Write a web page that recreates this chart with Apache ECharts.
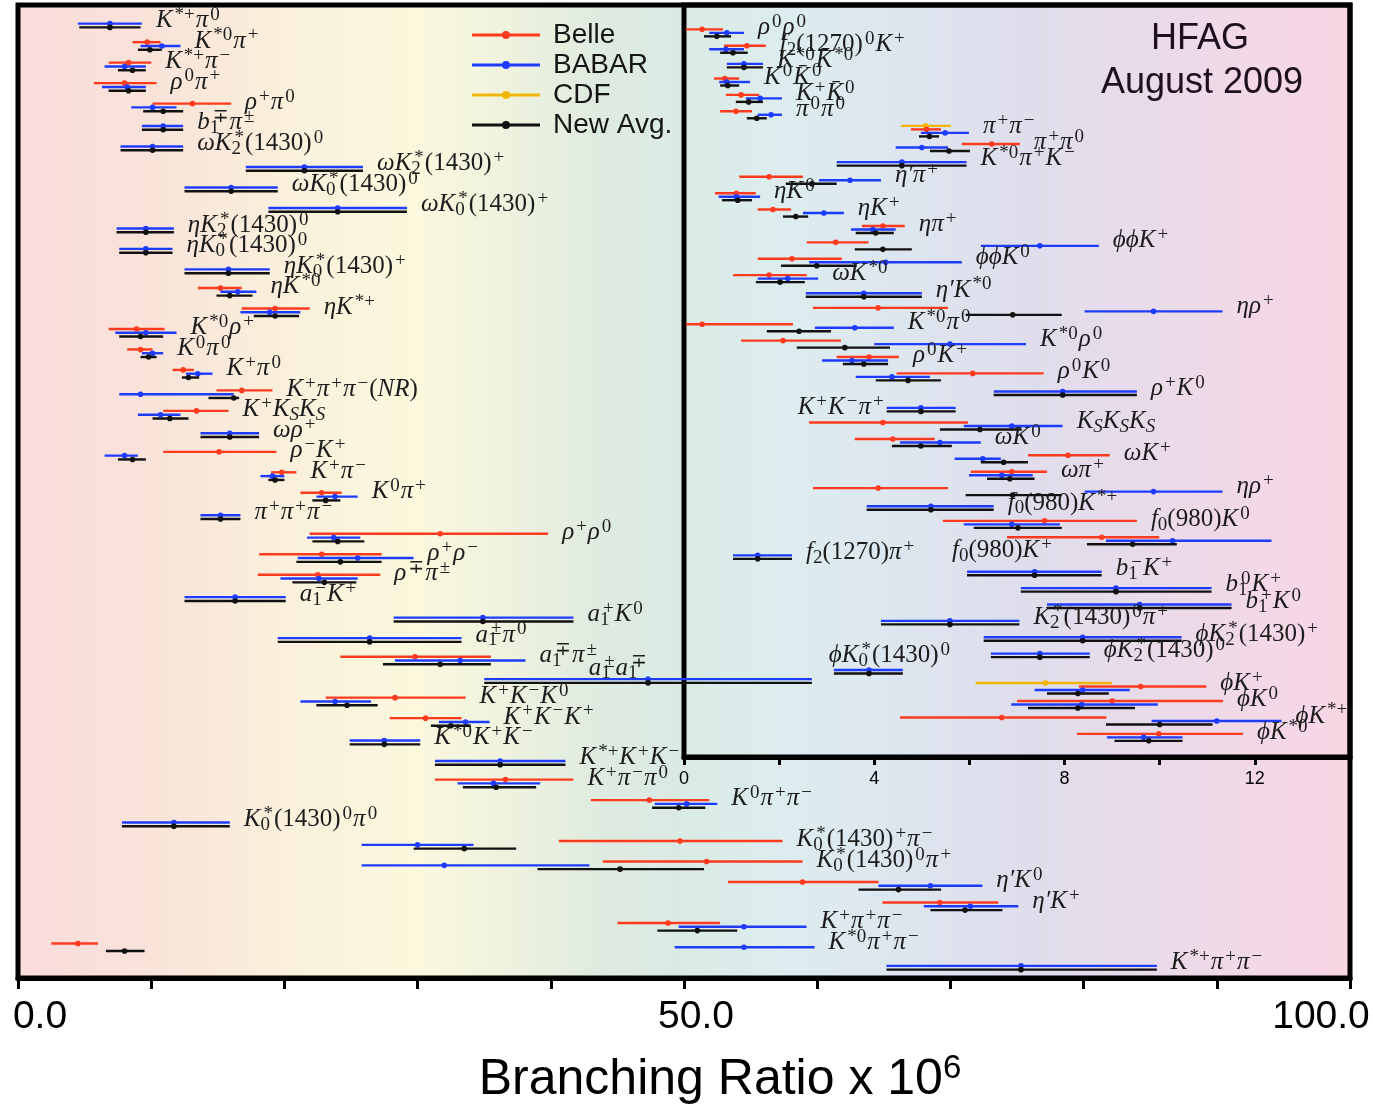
<!DOCTYPE html>
<html>
<head>
<meta charset="utf-8">
<title>Charmless B decays — branching ratios</title>
<script src="https://cdn.jsdelivr.net/npm/echarts@6/dist/echarts.min.js"></script>
<style>
  html, body { margin: 0; padding: 0; background: #ffffff; }
  #chart { width: 1373px; height: 1104px; }
</style>
</head>
<body>
<div id="chart"></div>
<script>
// Each measurement is [central value, lower edge, upper edge] in units of 10^-6.
// Label markup: ^{..} superscript, _{..} subscript.

// ---------- main panel (0 – 100) ----------
const mainModes = [
  'K^{*+}π^{0}', 'K^{*0}π^{+}', 'K^{*+}π^{−}', 'ρ^{0}π^{+}', 'ρ^{+}π^{0}', 'b_{1}^{∓}π^{±}',
  'ωK_{2}^{*}(1430)^{0}', 'ωK_{2}^{*}(1430)^{+}', 'ωK_{0}^{*}(1430)^{0}', 'ωK_{0}^{*}(1430)^{+}',
  'ηK_{2}^{*}(1430)^{0}', 'ηK_{0}^{*}(1430)^{0}', 'ηK_{0}^{*}(1430)^{+}', 'ηK^{*0}', 'ηK^{*+}',
  'K^{*0}ρ^{+}', 'K^{0}π^{0}', 'K^{+}π^{0}', 'K^{+}π^{+}π^{−}(NR)', 'K^{+}K_{S}K_{S}', 'ωρ^{+}',
  'ρ^{−}K^{+}', 'K^{+}π^{−}', 'K^{0}π^{+}', 'π^{+}π^{+}π^{−}', 'ρ^{+}ρ^{0}', 'ρ^{+}ρ^{−}', 'ρ^{∓}π^{±}',
  'a_{1}^{−}K^{+}', 'a_{1}^{+}K^{0}', 'a_{1}^{±}π^{0}', 'a_{1}^{∓}π^{±}', 'a_{1}^{±}a_{1}^{∓}',
  'K^{+}K^{−}K^{0}', 'K^{+}K^{−}K^{+}', 'K^{*0}K^{+}K^{−}', 'K^{*+}K^{+}K^{−}', 'K^{+}π^{−}π^{0}',
  'K^{0}π^{+}π^{−}', 'K_{0}^{*}(1430)^{0}π^{0}', 'K_{0}^{*}(1430)^{+}π^{−}', 'K_{0}^{*}(1430)^{0}π^{+}',
  'η′K^{0}', 'η′K^{+}', 'K^{+}π^{+}π^{−}', 'K^{*0}π^{+}π^{−}', 'K^{*+}π^{+}π^{−}'
];

const mainBelle = [
  null, [9.7, 8.6, 10.7], [8.3, 6.8, 10.0], [8.0, 5.7, 10.4], [13.1, 10.1, 16.0], null,
  null, null, null, null,
  null, null, null, [15.2, 13.5, 16.8], [19.3, 16.8, 21.9],
  [8.9, 6.8, 11.0], [9.2, 8.2, 10.1], [12.4, 11.6, 13.2], [16.8, 14.9, 19.1], [13.4, 10.9, 15.8], null,
  [15.1, 10.9, 19.4], [19.8, 19.0, 20.9], [22.8, 21.2, 24.3], null, [31.7, 21.9, 39.8], [22.8, 18.1, 27.3], [22.5, 18.0, 27.2],
  null, null, null, [29.8, 24.2, 35.5], null,
  [28.3, 23.1, 33.6], [30.6, 27.9, 33.3], null, null, [36.6, 31.3, 41.7],
  [47.4, 43.0, 51.9], null, [49.7, 40.6, 57.4], [51.7, 43.9, 58.9],
  [58.9, 53.3, 64.6], [69.2, 64.9, 73.6], [48.8, 45.0, 52.7], [4.5, 2.5, 6.0], null
];

const mainBabar = [
  [6.9, 4.5, 9.3], [10.8, 9.2, 12.2], [8.0, 6.5, 9.6], [8.2, 6.3, 9.6], [10.1, 8.5, 11.9], [10.9, 9.3, 12.4],
  [10.1, 7.7, 12.4], [21.5, 17.1, 25.9], [16.0, 12.5, 19.5], [24.0, 18.8, 29.2],
  [9.6, 7.4, 11.7], [9.6, 7.6, 11.6], [15.8, 12.5, 18.9], [16.5, 15.2, 17.9], [18.9, 16.7, 21.2],
  [9.6, 7.3, 11.9], [10.1, 9.3, 10.9], [13.5, 12.6, 14.6], [9.2, 7.6, 16.2], [10.7, 9.0, 12.2], [15.9, 13.7, 18.1],
  [8.0, 6.5, 9.0], [19.1, 18.2, 20.0], [23.8, 22.4, 25.5], [15.2, 13.7, 16.7], [23.7, 21.7, 25.7], [25.5, 21.0, 29.7], [22.6, 19.7, 25.5],
  [16.3, 12.5, 20.1], [34.9, 28.2, 41.7], [26.4, 19.5, 33.3], [33.2, 28.3, 38.1], [47.3, 35.0, 59.6],
  [23.8, 21.2, 26.5], [33.6, 31.6, 35.4], [27.5, 24.9, 30.2], [36.2, 31.3, 41.1], [35.7, 33.0, 39.2],
  [50.2, 47.8, 52.5], [11.7, 7.8, 15.9], [30.0, 25.8, 34.2], [32.0, 25.8, 42.9],
  [68.5, 64.6, 72.4], [71.5, 68.0, 75.1], [54.5, 49.6, 59.2], [54.5, 49.3, 59.8], [75.3, 65.2, 85.5]
];

const mainAvg = [
  [6.9, 4.6, 9.2], [9.9, 9.0, 10.8], [8.6, 7.5, 9.6], [8.3, 6.8, 9.6], [10.9, 9.4, 12.4], [10.9, 9.3, 12.4],
  [10.1, 7.7, 12.4], [21.5, 17.1, 25.9], [16.0, 12.5, 19.5], [24.0, 18.8, 29.2],
  [9.6, 7.4, 11.7], [9.6, 7.6, 11.6], [15.8, 12.5, 18.9], [15.9, 14.9, 17.6], [19.3, 17.7, 21.1],
  [9.2, 7.6, 10.9], [9.8, 9.2, 10.4], [12.8, 12.3, 13.6], [16.2, 14.3, 16.6], [11.4, 10.1, 12.8], [15.9, 13.7, 18.1],
  [8.6, 7.5, 9.6], [19.3, 18.8, 20.0], [23.1, 22.1, 24.2], [15.2, 13.7, 16.7], [24.0, 22.1, 26.0], [24.2, 20.9, 27.3], [23.0, 20.6, 25.4],
  [16.3, 12.5, 20.1], [34.9, 28.2, 41.7], [26.4, 19.5, 33.3], [31.7, 27.4, 35.5], [47.3, 35.0, 59.6],
  [24.7, 22.4, 27.0], [32.5, 31.0, 34.0], [27.5, 24.9, 30.2], [36.2, 31.3, 41.1], [35.9, 33.4, 38.9],
  [49.6, 47.6, 51.6], [11.7, 7.8, 15.9], [33.5, 29.7, 37.4], [45.2, 39.0, 51.5],
  [66.1, 63.1, 69.3], [71.1, 68.5, 73.9], [51.0, 48.0, 54.0], [8.0, 6.6, 9.5], [75.3, 65.2, 85.5]
];

// ---------- inset panel (0 – 14) ----------
const insetModes = [
  'ρ^{0}ρ^{0}', 'f_{2}(1270)^{0}K^{+}', 'K^{*0}K\u0304^{*0}', 'K^{0}K\u0304^{0}', 'K^{+}K\u0304^{0}', 'π^{0}π^{0}',
  'π^{+}π^{−}', 'π^{+}π^{0}', 'K^{*0}π^{+}K^{−}', 'η′π^{+}', 'ηK^{0}', 'ηK^{+}', 'ηπ^{+}',
  'ϕϕK^{+}', 'ϕϕK^{0}', 'ωK^{*0}', 'η′K^{*0}', 'ηρ^{+}', 'K^{*0}π^{0}', 'K^{*0}ρ^{0}', 'ρ^{0}K^{+}',
  'ρ^{0}K^{0}', 'ρ^{+}K^{0}', 'K^{+}K^{−}π^{+}', 'K_{S}K_{S}K_{S}', 'ωK^{0}', 'ωK^{+}', 'ωπ^{+}', 'ηρ^{+}',
  'f_{0}(980)K^{*+}', 'f_{0}(980)K^{0}', 'f_{0}(980)K^{+}', 'f_{2}(1270)π^{+}', 'b_{1}^{−}K^{+}',
  'b_{1}^{0}K^{+}', 'b_{1}^{+}K^{0}', 'K_{2}^{*}(1430)^{0}π^{+}', 'ϕK_{2}^{*}(1430)^{+}', 'ϕK_{2}^{*}(1430)^{0}',
  'ϕK_{0}^{*}(1430)^{0}', 'ϕK^{+}', 'ϕK^{0}', 'ϕK^{*+}', 'ϕK^{*0}'
];

const insetCdf = [
  null, null, null, null, null, null,
  [5.08, 4.56, 5.61], null, null, null, null, null, null,
  null, null, null, null, null, null, null, null,
  null, null, null, null, null, null, null, null,
  null, null, null, null, null,
  null, null, null, null, null,
  null, [7.60, 6.13, 9.00], null, null, null
];

const insetBelle = [
  [0.38, 0.04, 0.82], [1.32, 0.84, 1.72], null, [0.86, 0.63, 1.16], [1.20, 0.88, 1.58], [1.09, 0.76, 1.43],
  [5.10, 4.77, 5.40], [6.47, 5.84, 7.06], null, [1.79, 1.16, 2.50], [1.10, 0.65, 1.51], [1.87, 1.55, 2.25], [4.18, 3.74, 4.64],
  [3.19, 2.58, 3.88], [2.27, 1.55, 3.32], [1.79, 1.03, 2.58], null, [4.08, 2.71, 5.55], [0.38, 0.04, 2.29], [2.08, 1.20, 3.30], [3.89, 3.21, 4.52],
  [6.07, 4.47, 7.56], null, null, [4.18, 2.63, 5.97], [4.39, 3.59, 5.27], [8.07, 7.23, 8.95], [6.89, 6.03, 7.63], [4.08, 2.71, 5.55],
  null, [7.58, 5.44, 9.52], [8.78, 6.79, 9.99], null, null,
  null, null, null, null, null,
  null, [9.60, 8.30, 10.98], [9.00, 7.00, 11.33], [6.68, 4.54, 8.88], [9.98, 8.26, 11.75]
];

const insetBabar = [
  [0.90, 0.53, 1.26], [0.88, 0.53, 1.26], [1.26, 0.90, 1.66], [0.90, 0.74, 1.39], [1.60, 1.30, 2.06], [1.83, 1.55, 2.06],
  [5.49, 4.98, 5.99], [5.00, 4.45, 5.55], [4.58, 3.21, 5.94], [3.49, 2.84, 4.14], [1.10, 0.73, 1.60], [2.94, 2.50, 3.36], [3.97, 3.51, 4.45],
  [7.48, 6.24, 8.72], [4.24, 2.63, 5.84], [2.18, 1.55, 2.82], [3.78, 2.56, 5.00], [9.87, 8.42, 11.32], [3.59, 2.75, 4.41], [5.59, 4.00, 7.19], [3.53, 2.90, 4.29],
  [4.37, 3.61, 5.17], [7.96, 6.51, 9.52], [4.98, 4.26, 5.71], [6.89, 5.88, 7.96], [5.38, 4.54, 6.24], [6.28, 5.69, 6.66], [6.68, 5.99, 7.33], [9.87, 8.42, 11.32],
  [5.19, 3.84, 6.51], [6.89, 5.88, 7.90], [10.27, 8.87, 12.35], [1.55, 1.03, 2.27], [7.37, 5.95, 8.78],
  [9.08, 7.08, 11.09], [9.58, 7.63, 11.51], [5.59, 4.14, 7.05], [8.38, 6.30, 10.46], [7.48, 6.45, 8.53],
  [3.89, 3.15, 4.60], [8.38, 7.37, 9.37], [8.36, 6.88, 9.96], [11.20, 9.83, 12.56], [9.66, 8.89, 10.48]
];

const insetAvg = [
  [0.69, 0.42, 0.99], [1.03, 0.76, 1.34], [1.26, 0.90, 1.66], [0.92, 0.76, 1.16], [1.36, 1.09, 1.66], [1.53, 1.32, 1.74],
  [5.16, 4.94, 5.36], [5.57, 5.17, 6.01], [4.58, 3.21, 5.94], [2.69, 2.14, 3.21], [1.13, 0.80, 1.43], [2.35, 2.08, 2.61], [4.03, 3.61, 4.41],
  [4.18, 3.59, 4.79], [2.79, 2.04, 3.63], [2.02, 1.51, 2.54], [3.78, 2.56, 5.00], [6.91, 5.92, 7.94], [2.42, 1.74, 3.09], [3.38, 2.37, 4.33], [3.78, 3.34, 4.29],
  [4.71, 4.03, 5.40], [7.96, 6.51, 9.52], [4.98, 4.26, 5.71], [6.22, 5.38, 7.10], [4.98, 4.37, 5.63], [6.72, 6.24, 7.23], [6.85, 6.37, 7.37], [6.91, 5.92, 7.94],
  [5.19, 3.84, 6.51], [7.02, 6.09, 7.94], [9.43, 8.47, 10.36], [1.55, 1.03, 2.27], [7.37, 5.95, 8.78],
  [9.08, 7.08, 11.09], [9.58, 7.63, 11.51], [5.59, 4.14, 7.05], [8.38, 6.30, 10.46], [7.48, 6.45, 8.53],
  [3.89, 3.15, 4.60], [8.28, 7.63, 8.93], [8.28, 7.23, 9.48], [10.00, 8.87, 11.11], [9.77, 9.05, 10.48]
];

// ---------- axis tick labels ----------
const mainTickLabels = { 0: '0.0', 50: '50.0', 100: '100.0' };
const insetTickLabels = { 0: '0', 4: '4', 8: '8', 12: '12' };

// ---------- presentation ----------
const EXPERIMENTS = [
  { name: 'CDF', color: '#f2b705' },
  { name: 'Belle', color: '#ff3b1f' },
  { name: 'BABAR', color: '#1e3cff' },
  { name: 'New Avg.', color: '#111111' }
];

// Labels that do not sit just right of their bars (1-based row numbers).
const mainLabelLayout = {
  33: { from: 'val', align: 'right', dx: 0, dy: -13 }
};
const insetLabelLayout = {
  24: { from: 'lo', align: 'right', dx: -2, dy: -2 },
  32: { from: 'lo', align: 'right', dx: 46, dy: 10 },
  40: { from: 'lo', align: 'left', dx: -5, dy: -16 }
};

const SERIF = '"Liberation Serif", "DejaVu Serif", serif';
const SANS = '"Liberation Sans", Arial, Helvetica, sans-serif';
const LF = 25, LS = 19;
const RICH = {
  n:    { font: 'italic ' + LF + 'px ' + SERIF, lineHeight: 30, align: 'left' },
  u:    { font: LF + 'px ' + SERIF, lineHeight: 30, align: 'left' },
  sp:   { font: LS + 'px ' + SERIF, lineHeight: 19, verticalAlign: 'top', align: 'left', padding: [0, 1, 0, 2] },
  spi:  { font: 'italic ' + LS + 'px ' + SERIF, lineHeight: 19, verticalAlign: 'top', align: 'left', padding: [0, 1, 0, 2] },
  sb:   { font: LS + 'px ' + SERIF, lineHeight: 17, verticalAlign: 'bottom', align: 'left' },
  sbi:  { font: 'italic ' + LS + 'px ' + SERIF, lineHeight: 17, verticalAlign: 'bottom', align: 'left' },
  sbz:  { font: LS + 'px ' + SERIF, lineHeight: 17, verticalAlign: 'bottom', align: 'left', width: 1 },
  sbzi: { font: 'italic ' + LS + 'px ' + SERIF, lineHeight: 17, verticalAlign: 'bottom', align: 'left', width: 1 }
};

// Turn the small markup into zrender rich-text tokens.
function toRich(src) {
  let out = '', buf = '', bufStyle = null, i = 0;
  const flush = () => { if (buf) { out += '{' + bufStyle + '|' + buf + '}'; buf = ''; } };
  while (i < src.length) {
    const c = src[i];
    if ((c === '^' || c === '_') && src[i + 1] === '{') {
      const end = src.indexOf('}', i);
      const content = src.slice(i + 2, end);
      flush();
      let st = c === '^' ? 'sp' : 'sb';
      if (c === '_' && src[end + 1] === '^') st = 'sbz'; // stack sub under the following sup
      if (/[A-Za-z]/.test(content)) st += 'i';
      out += '{' + st + '|' + content + '}';
      i = end + 1;
      continue;
    }
    const s = /[0-9()]/.test(c) ? 'u' : 'n';
    if (buf && s !== bufStyle) flush();
    bufStyle = s;
    buf += c;
    i++;
  }
  flush();
  return out;
}

function errorBarSeries(sets, gridIndex, spacing) {
  const list = [];
  EXPERIMENTS.forEach((exp, e) => {
    const arr = sets[e];
    if (!arr) return;
    const data = [];
    arr.forEach((d, i) => {
      if (!d) return;
      const present = sets.map(s => s && s[i]).map(Boolean);
      const n = present.filter(Boolean).length;
      const k = present.slice(0, e).filter(Boolean).length;
      data.push([d[0], i + 1, d[1], d[2], k, n]);
    });
    list.push({
      name: exp.name,
      type: 'custom',
      xAxisIndex: gridIndex,
      yAxisIndex: gridIndex,
      itemStyle: { color: exp.color },
      encode: { x: [0, 2, 3], y: 1 },
      clip: false,
      z: 3 + e,
      renderItem: function (params, api) {
        const row = api.value(1);
        const k = api.value(4), n = api.value(5);
        const yc = api.coord([api.value(0), row])[1] + (k - (n - 1) / 2) * spacing;
        const xl = api.coord([api.value(2), row])[0];
        const xh = api.coord([api.value(3), row])[0];
        const xc = api.coord([api.value(0), row])[0];
        return {
          type: 'group',
          children: [
            { type: 'line', shape: { x1: xl, y1: yc, x2: xh, y2: yc }, style: { stroke: exp.color, lineWidth: 2.4 } },
            { type: 'circle', shape: { cx: xc, cy: yc, r: 2.8 }, style: { fill: exp.color } }
          ]
        };
      },
      data: data
    });
  });
  return list;
}

function labelSeries(modes, sets, gridIndex, layout) {
  const rich = modes.map(toRich);
  const data = modes.map((m, i) => {
    const items = sets.map(s => s && s[i]).filter(Boolean);
    const lay = layout[i + 1] || {};
    let anchor;
    if (lay.from === 'lo') anchor = Math.min.apply(null, items.map(d => d[1]));
    else if (lay.from === 'val') anchor = items[items.length - 1][0];
    else anchor = Math.max.apply(null, items.map(d => d[2]));
    return [anchor, i + 1];
  });
  return {
    name: 'labels-' + gridIndex,
    type: 'custom',
    xAxisIndex: gridIndex,
    yAxisIndex: gridIndex,
    clip: false,
    z: 10,
    silent: true,
    encode: { x: 0, y: 1 },
    renderItem: function (params, api) {
      const i = params.dataIndex;
      const lay = layout[i + 1] || {};
      const p = api.coord([api.value(0), api.value(1)]);
      return {
        type: 'text',
        x: p[0] + (lay.dx != null ? lay.dx : 14),
        y: p[1] + (lay.dy != null ? lay.dy : -5),
        style: {
          text: rich[i],
          rich: RICH,
          align: lay.align || 'left',
          verticalAlign: 'middle',
          fill: '#1c1c1c'
        }
      };
    },
    data: data
  };
}

const mainSets = [null, mainBelle, mainBabar, mainAvg];
const insetSets = [insetCdf, insetBelle, insetBabar, insetAvg];

const chart = echarts.init(document.getElementById('chart'), null, { renderer: 'canvas' });

const option = {
  animation: false,
  backgroundColor: '#ffffff',
  grid: [
    {
      left: 18, top: 5, width: 1332, height: 973,
      outerBoundsMode: 'none', containLabel: false,
      show: true, borderColor: '#000', borderWidth: 5,
      backgroundColor: {
        type: 'linear', x: 0, y: 0, x2: 1, y2: 0,
        colorStops: [
          { offset: 0.00, color: '#fadcdc' },
          { offset: 0.10, color: '#f9e3d9' },
          { offset: 0.22, color: '#faf2dc' },
          { offset: 0.30, color: '#fbf8dd' },
          { offset: 0.37, color: '#eef2de' },
          { offset: 0.44, color: '#deebe0' },
          { offset: 0.50, color: '#daeae4' },
          { offset: 0.57, color: '#ddedef' },
          { offset: 0.66, color: '#dde6ef' },
          { offset: 0.75, color: '#dfdeec' },
          { offset: 0.84, color: '#e8dbea' },
          { offset: 0.93, color: '#f3d8e6' },
          { offset: 1.00, color: '#f9d6e4' }
        ]
      }
    },
    {
      left: 684, top: 5, width: 666, height: 752,
      outerBoundsMode: 'none', containLabel: false,
      show: true, borderColor: '#000', borderWidth: 5, backgroundColor: 'transparent'
    }
  ],
  xAxis: [
    {
      gridIndex: 0, type: 'value', min: 0, max: 100, interval: 10,
      axisLine: { show: true, onZero: false, lineStyle: { color: '#000', width: 5 } },
      axisTick: { show: true, inside: false, length: 11, lineStyle: { color: '#000', width: 3 } },
      splitLine: { show: false },
      axisLabel: {
        showMinLabel: true, showMaxLabel: true, margin: 20,
        formatter: function (v) {
          const t = mainTickLabels[v];
          if (t == null) return '';
          const key = v === 0 ? 'l' : (v === 100 ? 'r' : 'm');
          return '{' + key + '|' + t + '}';
        },
        rich: {
          l: { fontFamily: SANS, fontSize: 39, color: '#000', padding: [0, 0, 0, 44] },
          m: { fontFamily: SANS, fontSize: 39, color: '#000', padding: [0, 0, 0, 24] },
          r: { fontFamily: SANS, fontSize: 39, color: '#000', padding: [0, 58, 0, 0] }
        }
      },
      name: '{a|Branching Ratio x 10}{b|6}',
      nameLocation: 'middle',
      nameGap: 74,
      nameTextStyle: {
        rich: {
          a: { fontFamily: SANS, fontSize: 50, color: '#000', lineHeight: 56, padding: [0, 0, 0, 72] },
          b: { fontFamily: SANS, fontSize: 33, color: '#000', lineHeight: 34, verticalAlign: 'top' }
        }
      }
    },
    {
      gridIndex: 1, type: 'value', min: 0, max: 14, interval: 2,
      axisLine: { show: true, onZero: false, lineStyle: { color: '#000', width: 5 } },
      axisTick: { show: true, inside: false, length: 8, lineStyle: { color: '#000', width: 3 } },
      splitLine: { show: false },
      axisLabel: {
        showMinLabel: true, showMaxLabel: true, margin: 13,
        fontFamily: SANS, fontSize: 18, color: '#000',
        formatter: function (v) { return insetTickLabels[v] != null ? insetTickLabels[v] : ''; }
      }
    }
  ],
  yAxis: [
    { gridIndex: 0, type: 'value', min: 0, max: 47.5, inverse: true, show: false },
    { gridIndex: 1, type: 'value', min: -0.7, max: 45.2, inverse: true, show: false }
  ],
  legend: {
    data: ['Belle', 'BABAR', 'CDF', 'New Avg.'],
    orient: 'vertical',
    left: 467, top: 15,
    itemWidth: 68, itemHeight: 8, itemGap: 0,
    icon: 'path://M0,2.6 H68 V5.4 H0 Z M34,0 A4,4 0 1,1 34,8 A4,4 0 1,1 34,0 Z',
    selectedMode: false,
    textStyle: { fontFamily: SANS, fontSize: 28, color: '#151515', lineHeight: 30, padding: [0, 0, 0, 8] }
  },
  graphic: [
    { type: 'text', x: 1200, y: 39, z: 20,
      style: { text: 'HFAG', font: '36px ' + SANS, fill: '#1e0f1e', align: 'center', verticalAlign: 'middle' } },
    { type: 'text', x: 1202, y: 83, z: 20,
      style: { text: 'August 2009', font: '36px ' + SANS, fill: '#1e0f1e', align: 'center', verticalAlign: 'middle' } }
  ],
  series: []
    .concat(errorBarSeries(mainSets, 0, 3.8))
    .concat(errorBarSeries(insetSets, 1, 3.5))
    .concat([labelSeries(mainModes, mainSets, 0, mainLabelLayout)])
    .concat([labelSeries(insetModes, insetSets, 1, insetLabelLayout)])
};

chart.setOption(option);
</script>
</body>
</html>
